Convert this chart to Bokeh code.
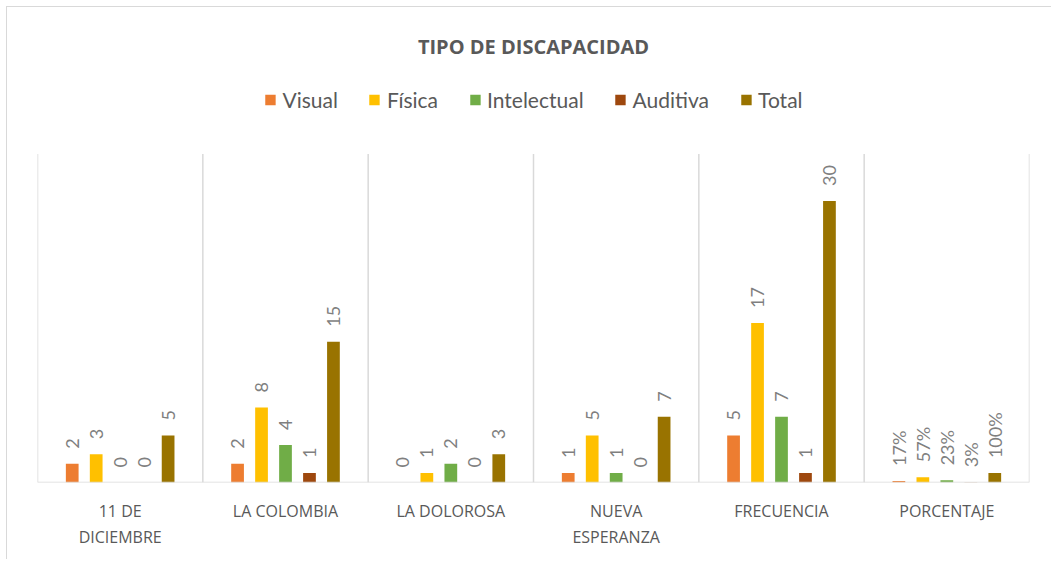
from bokeh.plotting import figure
from bokeh.models import FactorRange, ColumnDataSource, Legend, LegendItem, Label
from bokeh.transform import dodge
from bokeh.core.properties import value
from bokeh.embed import file_html
from bokeh.resources import INLINE
import math

# ---- data ----
categories = ["11 DE\nDICIEMBRE", "LA COLOMBIA", "LA DOLOROSA", "NUEVA\nESPERANZA", "FRECUENCIA", "PORCENTAJE"]
series_names = ["Visual", "Física", "Intelectual", "Auditiva", "Total"]
visual = [2, 2, 0, 1, 5, 0.17]
fisica = [3, 8, 1, 5, 17, 0.57]
intelectual = [0, 4, 2, 1, 7, 0.23]
auditiva = [0, 1, 0, 0, 1, 0.03]
total = [5, 15, 3, 7, 30, 1.00]
colors = ["#ED7D31", "#FFC000", "#70AD47", "#9E480E", "#997300"]
series_values = [visual, fisica, intelectual, auditiva, total]
title_text = "TIPO DE DISCAPACIDAD"

FONT = "Lato"
AXFONT = "Open Sans"
GRID = "#d9d9d9"
W, H = 1045, 553
ML, MR, MT, MB = 30, 23, 0, 78
FW, FH = W - ML - MR, H - MT - MB
AXIS_MAX = 35
Y_MAX = 50.62

p = figure(width=W, height=H, output_backend="svg", toolbar_location=None,
           x_range=FactorRange(factors=categories, range_padding=0),
           y_range=(0, Y_MAX),
           min_border_left=ML, min_border_right=MR, min_border_top=MT, min_border_bottom=MB)
p.styles = {"margin-left": "6px", "margin-top": "6px",
            "border-left": "1.5px solid #d9d9d9", "border-top": "1.5px solid #d9d9d9"}
p.outline_line_color = None
p.background_fill_color = "white"
p.border_fill_color = "white"
p.xgrid.grid_line_color = None
p.ygrid.grid_line_color = None
p.yaxis.visible = False

p.xaxis.axis_line_color = None
p.xaxis.major_tick_line_color = None
p.xaxis.minor_tick_line_color = None
p.xaxis.major_label_text_font = AXFONT
p.xaxis.major_label_text_font_size = "16px"
p.xaxis.major_label_text_color = "#595959"
p.xaxis.major_label_text_line_height = 1.2
p.xaxis.major_label_standoff = 11

# title (positioned in the frame's screen space)
p.add_layout(Label(x=FW / 2, y=FH - 39, x_units="screen", y_units="screen", text=title_text,
                   text_align="center", text_baseline="middle", text_font=AXFONT,
                   text_font_size="20px", text_font_style="bold", text_color="#595959"))

# category separators
xs = [(c, -0.5) for c in categories] + [(categories[-1], 0.5)]
p.segment(x0=xs, x1=xs, y0=[0] * len(xs), y1=[AXIS_MAX] * len(xs), line_color=GRID, line_width=1.5)

offsets = [-0.29, -0.145, 0.0, 0.145, 0.29]
items = []
for name, vals, col, off in zip(series_names, series_values, colors, offsets):
    labels = [(f"{round(v * 100)}%" if c == "PORCENTAJE" else str(int(v))) for c, v in zip(categories, vals)]
    src = ColumnDataSource(dict(cat=categories, val=vals, lab=labels))
    r = p.vbar(x=dodge("cat", off, range=p.x_range), top="val", width=0.077, source=src,
               fill_color=col, line_color=None)
    p.text(x=dodge("cat", off, range=p.x_range), y="val", text="lab", source=src,
           angle=math.pi / 2, text_align="left", text_baseline="middle", y_offset=-15,
           text_font=value(FONT), text_font_size="18px", text_color="#7f7f7f")
    items.append(LegendItem(label=name, renderers=[r]))

# baseline
p.segment(x0=[(categories[0], -0.5)], x1=[(categories[-1], 0.5)], y0=[0], y1=[0],
          line_color=GRID, line_width=1.5)

legend = Legend(items=items, orientation="horizontal", location="top_center", margin=80,
                padding=0, spacing=30, glyph_width=13, glyph_height=13, label_standoff=6,
                label_text_font=FONT, label_text_font_size="21px", label_text_color="#595959",
                border_line_color=None, background_fill_alpha=0)
p.add_layout(legend, "center")

open("out.html", "w").write(file_html(p, INLINE))
